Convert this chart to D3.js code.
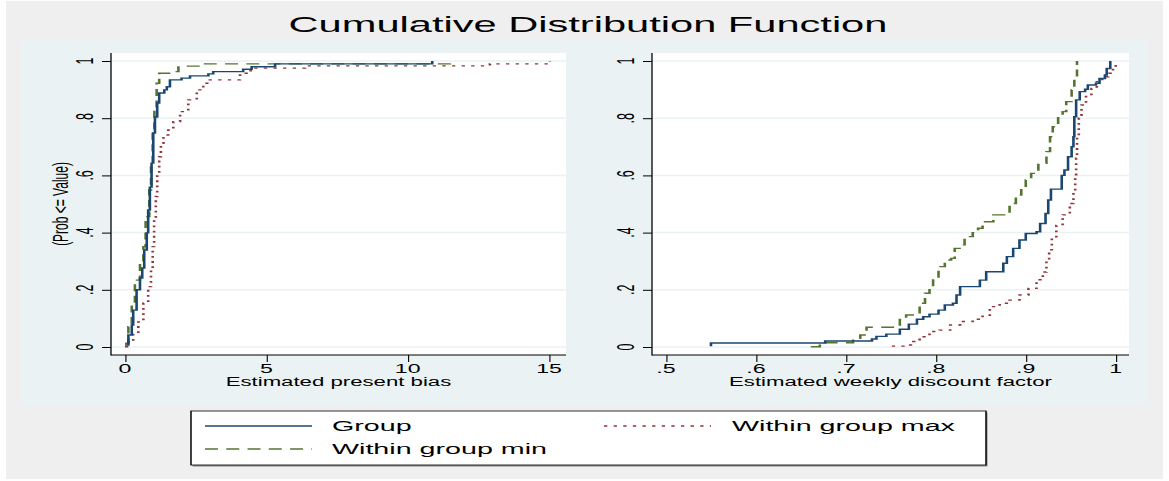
<!DOCTYPE html>
<html><head><meta charset="utf-8">
<script src="https://cdn.jsdelivr.net/npm/d3@7"></script>
<style>
body{margin:0;background:#fff}
svg{display:block}
text{font-family:"Liberation Sans",Arial,Helvetica,sans-serif;fill:#000}
</style>
</head><body>
<svg id="c" width="1169" height="481"></svg>
<script>
// ---------------- data ----------------
const chartTitle = "Cumulative Distribution Function";
const yTicks = [0, 0.2, 0.4, 0.6, 0.8, 1];
const yTickLabels = ["0", ".2", ".4", ".6", ".8", "1"];
const yTitle = "(Prob <= Value)";

const biasTicks = [0, 5, 10, 15];
const biasTickLabels = ["0", "5", "10", "15"];
const biasTitle = "Estimated present bias";

const discTicks = [0.5, 0.6, 0.7, 0.8, 0.9, 1];
const discTickLabels = [".5", ".6", ".7", ".8", ".9", "1"];
const discTitle = "Estimated weekly discount factor";

const seriesNames = ["Group", "Within group min", "Within group max"];

// left panel: estimated present bias
const biasGroupV = [0, 0.12, 0.24, 0.29, 0.41, 0.53, 0.61, 0.68, 0.77, 0.82, 0.88, 0.94, 1.0, 1.06, 1.14, 1.21, 1.39, 1.48, 1.59, 2.0, 2.3, 2.95, 3.12, 4.18, 4.48, 5.31, 10.87];
const biasGroupP = [0.007, 0.042, 0.077, 0.129, 0.2, 0.241, 0.276, 0.339, 0.399, 0.479, 0.559, 0.643, 0.748, 0.804, 0.853, 0.888, 0.899, 0.91, 0.934, 0.94, 0.948, 0.955, 0.963, 0.971, 0.98, 0.99, 1.0];
const biasMinV = [0, 0.12, 0.24, 0.35, 0.53, 0.65, 0.73, 0.8, 0.86, 0.92, 0.98, 1.04, 1.12, 1.21, 1.71, 1.89, 2.77, 11.5];
const biasMinP = [0.013, 0.071, 0.153, 0.234, 0.293, 0.351, 0.45, 0.456, 0.549, 0.642, 0.759, 0.84, 0.922, 0.957, 0.963, 0.982, 0.99, 1.0];
const biasMaxV = [0, 0.12, 0.29, 0.47, 0.65, 0.82, 0.92, 0.98, 1.03, 1.09, 1.14, 1.21, 1.27, 1.36, 1.53, 1.71, 1.95, 2.24, 2.54, 2.77, 2.91, 4.07, 4.3, 4.45, 6.37, 12.91, 15.03];
const biasMaxP = [0.001, 0.019, 0.048, 0.088, 0.153, 0.211, 0.269, 0.351, 0.444, 0.526, 0.607, 0.665, 0.712, 0.741, 0.759, 0.788, 0.823, 0.864, 0.899, 0.922, 0.934, 0.957, 0.966, 0.975, 0.983, 0.99, 1.0];

// right panel: estimated weekly discount factor
const discGroupV = [0.55, 0.55, 0.677, 0.729, 0.734, 0.745, 0.76, 0.77, 0.779, 0.786, 0.793, 0.803, 0.81, 0.819, 0.823, 0.827, 0.849, 0.856, 0.875, 0.879, 0.886, 0.893, 0.9, 0.912, 0.916, 0.922, 0.925, 0.928, 0.94, 0.943, 0.947, 0.951, 0.953, 0.954, 0.956, 0.96, 0.966, 0.969, 0.978, 0.982, 0.988, 0.99, 0.994];
const discGroupP = [0.003, 0.014, 0.021, 0.028, 0.037, 0.045, 0.062, 0.08, 0.097, 0.106, 0.115, 0.129, 0.147, 0.153, 0.182, 0.211, 0.234, 0.263, 0.293, 0.316, 0.345, 0.374, 0.397, 0.403, 0.432, 0.467, 0.514, 0.552, 0.6, 0.619, 0.665, 0.7, 0.735, 0.805, 0.864, 0.893, 0.901, 0.916, 0.922, 0.939, 0.951, 0.974, 1.0];
const discMinV = [0.661, 0.671, 0.677, 0.708, 0.716, 0.723, 0.76, 0.767, 0.782, 0.788, 0.793, 0.797, 0.803, 0.81, 0.817, 0.821, 0.828, 0.832, 0.841, 0.847, 0.852, 0.864, 0.882, 0.889, 0.895, 0.9, 0.906, 0.914, 0.923, 0.927, 0.93, 0.936, 0.941, 0.945, 0.951, 0.954, 0.957];
const discMinP = [0.001, 0.009, 0.015, 0.03, 0.042, 0.069, 0.1, 0.112, 0.153, 0.188, 0.211, 0.24, 0.281, 0.304, 0.31, 0.345, 0.357, 0.386, 0.4, 0.415, 0.438, 0.462, 0.502, 0.531, 0.555, 0.584, 0.607, 0.642, 0.683, 0.735, 0.77, 0.805, 0.823, 0.858, 0.899, 0.945, 1.0];
const discMaxV = [0.751, 0.767, 0.775, 0.782, 0.793, 0.804, 0.816, 0.827, 0.841, 0.852, 0.86, 0.871, 0.882, 0.893, 0.903, 0.912, 0.919, 0.923, 0.926, 0.929, 0.934, 0.941, 0.949, 0.953, 0.955, 0.956, 0.957, 0.959, 0.962, 0.967, 0.973, 0.979, 0.985, 0.992, 0.997, 1.0];
const discMaxP = [0.003, 0.007, 0.019, 0.036, 0.054, 0.059, 0.077, 0.089, 0.097, 0.108, 0.141, 0.153, 0.164, 0.182, 0.205, 0.235, 0.262, 0.3, 0.34, 0.38, 0.425, 0.462, 0.502, 0.54, 0.59, 0.66, 0.735, 0.8, 0.846, 0.88, 0.904, 0.928, 0.945, 0.957, 0.974, 0.992];

// ---------------- drawing ----------------
const SX = 1.85;               // horizontal stretch of the whole picture
const X = px => px / SX;       // screen px -> natural units
const colors = ["#1a476f", "#55752f", "#90353b"];
const dashes = [null, "7,4.5", "1.8,3.4"];
const zip = (v, p) => v.map((d, i) => ({v: d, p: p[i]}));

const svg = d3.select("#c");
svg.append("rect").attr("width", 1169).attr("height", 481).attr("fill", "#fff");
const root = svg.append("g").attr("transform", `scale(${SX},1)`);

root.append("rect").attr("x", X(6)).attr("y", 1).attr("width", X(1157)).attr("height", 478).attr("fill", "#efefef");
root.append("rect").attr("x", X(22)).attr("y", 40).attr("width", X(1126)).attr("height", 365).attr("fill", "#eaf2f3");

root.append("text").attr("x", X(588)).attr("y", 32).attr("text-anchor", "middle")
  .style("font-size", "22.5px").text(chartTitle);

const y = d3.scaleLinear().domain([0, 1]).range([347, 61]);

const panels = [
  {x0: 111, x1: 566, domain: [0, 15], r: [125, 549], ticks: biasTicks, labels: biasTickLabels, title: biasTitle, yTitle: true,
   series: [zip(biasGroupV, biasGroupP), zip(biasMinV, biasMinP), zip(biasMaxV, biasMaxP)]},
  {x0: 652, x1: 1129, domain: [0.5, 1], r: [666, 1115.7], ticks: discTicks, labels: discTickLabels, title: discTitle, yTitle: false,
   series: [zip(discGroupV, discGroupP), zip(discMinV, discMinP), zip(discMaxV, discMaxP)]}
];

panels.forEach(pn => {
  const x = d3.scaleLinear().domain(pn.domain).range([X(pn.r[0]), X(pn.r[1])]);
  const g = root.append("g");
  g.append("rect").attr("x", X(pn.x0)).attr("y", 53).attr("width", X(pn.x1 - pn.x0)).attr("height", 302).attr("fill", "#fff");
  g.selectAll(".grid").data(yTicks).enter().append("line")
    .attr("x1", X(pn.x0)).attr("x2", X(pn.x1)).attr("y1", d => y(d)).attr("y2", d => y(d))
    .attr("stroke", "#eaf2f3").attr("stroke-width", 1.5);

  // series
  const line = d3.line().x(d => x(d.v)).y(d => y(d.p)).curve(d3.curveStepAfter);
  [1, 2, 0].forEach(i => {
    g.append("path").attr("d", line(pn.series[i])).attr("fill", "none")
      .attr("stroke", colors[i]).attr("stroke-width", 1.4)
      .attr("stroke-dasharray", dashes[i]);
  });

  // axes
  const ya = d3.axisLeft(y).tickValues(yTicks).tickFormat("").tickSize(X(9)).tickSizeOuter(0);
  const yg = g.append("g").attr("transform", `translate(${X(pn.x0)},0)`).call(ya);
  yg.select(".domain").remove();
  yg.selectAll(".tick line").attr("stroke", "#000").attr("stroke-width", 1);
  const xa = d3.axisBottom(x).tickValues(pn.ticks).tickFormat("").tickSize(7).tickSizeOuter(0);
  const xg = g.append("g").attr("transform", `translate(0,355)`).call(xa);
  xg.select(".domain").remove();
  xg.selectAll(".tick line").attr("stroke", "#000").attr("stroke-width", 0.6);
  g.append("line").attr("x1", X(pn.x0)).attr("x2", X(pn.x0)).attr("y1", 53).attr("y2", 355.5).attr("stroke", "#000").attr("stroke-width", 0.7);
  g.append("line").attr("x1", X(pn.x0)).attr("x2", X(pn.x1)).attr("y1", 355).attr("y2", 355).attr("stroke", "#000").attr("stroke-width", 1.2);

  // tick labels
  g.selectAll(".xl").data(pn.ticks).enter().append("text")
    .attr("x", d => x(d)).attr("y", 373).attr("text-anchor", "middle")
    .style("font-size", "12.5px").text((d, i) => pn.labels[i]);
  g.selectAll(".yl").data(yTicks).enter().append("text")
    .attr("transform", d => `translate(${X(pn.x0 - 18)},${y(d)}) rotate(-90)`)
    .attr("text-anchor", "middle").style("font-size", "12.5px").text((d, i) => yTickLabels[i]);
  g.append("text").attr("x", X((pn.x0 + pn.x1) / 2)).attr("y", 386).attr("text-anchor", "middle")
    .style("font-size", "12px").text(pn.title);
  if (pn.yTitle) {
    g.append("text").attr("transform", `translate(${X(67.6)},${(y(0) + y(1)) / 2}) rotate(-90)`)
      .attr("text-anchor", "middle").style("font-size", "12px").text(yTitle);
  }
});

// legend
const lg = root.append("g");
lg.append("rect").attr("x", X(192.5)).attr("y", 412.5).attr("width", X(795)).attr("height", 54).attr("fill", "#8a8a8a");
lg.append("rect").attr("x", X(191)).attr("y", 411).attr("width", X(795)).attr("height", 54)
  .attr("fill", "#fff").attr("stroke", "#000").attr("stroke-width", 0.8);
const legendPos = [{lx: 205, ly: 426, tx: 332}, {lx: 205, ly: 449, tx: 332}, {lx: 604, ly: 426, tx: 732}];
seriesNames.forEach((name, i) => {
  const p = legendPos[i];
  lg.append("line").attr("x1", X(p.lx)).attr("x2", X(p.lx + 107)).attr("y1", p.ly).attr("y2", p.ly)
    .attr("stroke", colors[i]).attr("stroke-width", 1.4).attr("stroke-dasharray", dashes[i]);
  lg.append("text").attr("x", X(p.tx)).attr("y", p.ly + 5.5).style("font-size", "15.5px").text(name);
});
</script>
</body></html>
